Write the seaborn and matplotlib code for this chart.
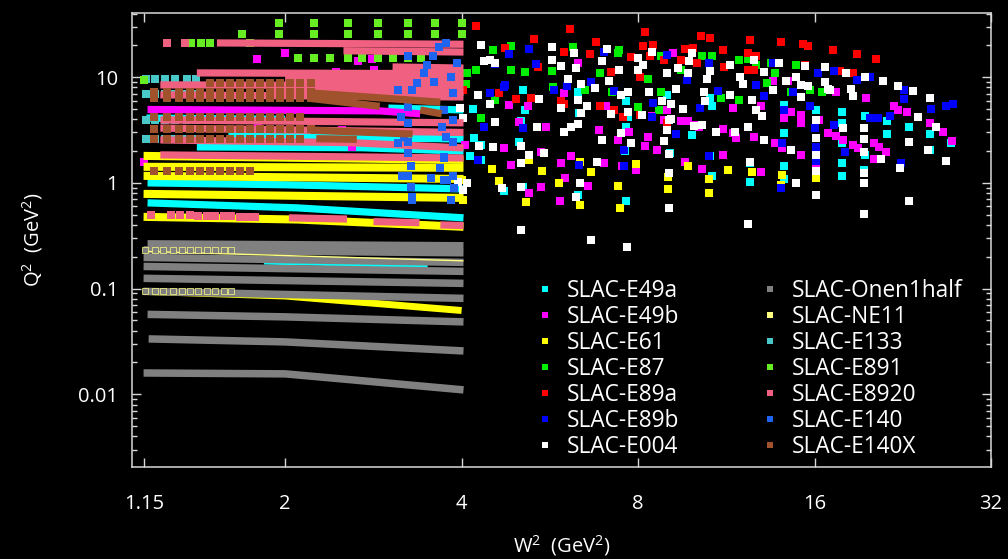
import matplotlib
matplotlib.use("Agg")
import matplotlib.pyplot as plt
import seaborn as sns
import pandas as pd
from matplotlib.lines import Line2D
from matplotlib.ticker import FixedLocator, LogLocator, NullLocator, NullFormatter

# ---------------- data (W^2, Q^2) ----------------
series_names = ["SLAC-E49a", "SLAC-E49b", "SLAC-E61", "SLAC-E87", "SLAC-E89a", "SLAC-E89b",
                "SLAC-E004", "SLAC-Onen1half", "SLAC-NE11", "SLAC-E133", "SLAC-E891",
                "SLAC-E8920", "SLAC-E140", "SLAC-E140X"]
series_colors = ["#00ffff", "#ff00ff", "#ffff00", "#00ee00", "#ff0000", "#0000ff",
                 "#ffffff", "#808080", "#ffff80", "#48c8c8", "#66ee22",
                 "#f06080", "#1e64f0", "#a0522d"]

e49a_pts = [(4.18,5.0),(4.2,2.64),(4.31,2.28),(4.13,1.78),(4.32,1.65),(5.1,7.6),(5.14,4.91),(5.05,3.86),
            (5.02,2.46),(4.72,0.83),(6.32,7.3),(6.34,4.55),(6.45,7.6),(7.63,6.0),(7.68,4.2),(7.63,3.41),
            (7.61,2.0),(7.63,0.667),(8.98,6.8),(9.08,1.9),(9.87,2.85),(10.6,6.3),(10.7,5.3),(10.6,1.78),
            (10.7,1.15),(12.4,1.53),(12.4,1.03),(14.2,5.5),(14.2,2.96),(14.2,1.45),(14.2,1.1),(16.1,4.91),
            (17.8,4.66),(17.8,3.66),(17.8,2.37),(17.8,1.55),(17.8,1.15),(19.5,4.26),(19.5,1.84),(21.3,3.86),
            (21.3,2.9),(23.2,3.41),(25.2,2.9),(25.2,2.06),(27.4,2.37),(19.4,1.33),(6.32,0.77),(5.09,0.92)]
e49a_bands = [[(1.165,1.0),(2.0,0.96),(4.03,0.877)],
              [(1.165,0.647),(2.1,0.58),(4.03,0.467)],
              [(1.414,2.19),(2.7,2.15),(4.03,2.0)],
              [(1.6,2.8),(4.03,2.6)],
              [(3.0,5.1),(4.03,4.9)],
              [(1.16,4.1),(2.0,4.0)]]
e49a_thin = [[(1.84,0.175),(3.5,0.162)]]

e49b_pts = [(4.72,2.12),(4.86,1.48),(5.22,0.81),(5.58,3.36),(5.46,1.94),(5.9,1.53),(6.0,1.12),(5.89,0.667),
            (6.15,1.78),(6.57,0.93),(6.85,3.17),(6.99,1.55),(7.38,2.56),(7.5,1.43),(7.95,1.33),(7.73,3.06),
            (8.33,2.74),(8.62,2.06),(8.22,2.21),(8.05,4.4),(8.98,4.91),(9.48,3.82),(9.73,3.82),(10.15,3.41),
            (9.61,1.59),(10.28,1.35),(11.15,3.24),(11.15,1.84),(11.6,2.96),(11.77,2.64),(12.6,2.74),
            (12.95,1.28),(13.7,2.37),(14.1,2.12),(14.2,4.1),(15.2,4.43),(15.2,3.66),(15.2,1.84),(16.1,1.53),
            (16.3,3.96),(16.9,2.96),(17.4,2.78),(17.4,7.3),(17.9,2.56),(18.6,2.28),(19.0,2.12),(20.2,2.37),
            (20.6,2.2),(21.2,1.94),(20.2,1.7),(22.2,4.91),(23.0,4.64),(25.2,3.66),(26.5,3.0),(27.5,2.5),
            (19.6,6.3),(21.9,5.3),(5.98,7.1),(5.19,5.35),(5.02,3.8),(4.81,5.5),(5.46,0.92),(4.06,2.28),
            (6.32,13.6),(7.04,5.3),(9.17,16.9),(13.6,9.2),(14.4,9.2),(14.6,4.73),(12.95,5.3),(11.6,5.1),
            (10.0,3.55),(8.44,4.26),(8.86,3.95),
            (1.147,1.58),(1.79,14.9),(2.0,16.9),(2.66,14.2),(2.81,14.9),(2.44,11.2),(2.84,11.7),
            (1.8,3.3),(2.5,3.17),(2.6,2.19)]
e49b_bands = [[(1.165,4.95),(2.9,4.8),(3.4,4.5)]]

e61_pts = [(4.51,1.35),(4.63,1.05),(5.16,0.66),(5.48,1.3),(5.22,1.63),(5.87,1.0),(6.36,0.62),(6.66,1.26),
           (6.38,1.57),(7.4,0.94),(7.45,0.58),(7.93,1.52),(9.0,1.14),(8.99,0.88),(9.74,1.43),(10.55,1.09),
           (10.55,0.81),(11.4,1.33),(12.5,1.28),(14.1,1.2),(16.1,1.11),(14.0,0.96),(4.03,0.69),(4.0,1.06)]
e61_bands = [[(1.147,1.80),(4.03,1.65)],
             [(1.147,1.42),(4.03,1.39)],
             [(1.147,1.165),(4.03,1.09)],
             [(1.147,0.787),(4.03,0.721)],
             [(1.147,0.477),(2.1,0.45),(4.03,0.384)]]
e61_low = [[(1.15,0.094),(2.0,0.085),(2.8,0.073),(4.0,0.062)]]

e87_pts = [(4.52,17.9),(4.85,19.9),(4.09,10.9),(4.24,11.6),(4.86,11.7),(5.14,11.2),(5.7,11.5),(5.72,8.0),
           (6.19,19.3),(7.43,18.2),(7.38,16.9),(6.88,11.0),(6.49,7.6),(7.23,7.3),(8.77,7.2),(8.0,5.2),
           (8.7,4.9),(8.31,9.6),(8.74,15.8),(10.28,15.7),(10.7,15.9),(11.9,14.4),(12.3,14.8),(12.7,13.1),
           (13.5,13.6),(13.3,8.8),(13.7,10.9),(14.9,13.1),(15.7,7.6),(16.5,7.3),(14.6,7.3),(11.1,6.3),
           (11.9,6.1),(4.31,4.1),(4.07,8.6),(4.56,6.1),(9.48,11.7)]

e89a_pts = [(4.24,30.5),(6.12,28.6),(8.22,26.6),(5.31,23.0),(6.79,21.6),(10.24,24.7),(10.6,23.5),
            (12.4,22.5),(14.0,21.3),(15.3,20.4),(15.6,19.6),(17.2,17.9),(18.9,16.5),(20.4,15.0),
            (5.98,17.4),(6.62,16.5),(4.75,18.8),(7.77,15.4),(8.47,20.3),(8.17,19.6),(9.61,18.5),
            (9.94,18.9),(11.15,17.9),(12.3,16.9),(12.7,15.7),(9.48,14.6),(8.86,14.4),(10.55,13.6),
            (10.08,13.6),(11.2,12.6),(12.3,11.7),(12.6,11.7),(15.4,13.1),(17.7,11.5),(18.6,10.9),
            (5.4,12.6),(4.95,6.2),(5.9,6.0),(5.98,5.6),(6.9,5.3),(7.28,4.9),(7.53,4.2),(8.07,4.4),
            (8.39,15.7),(8.98,3.7),(7.2,11.3),(8.07,10.1),(4.63,7.06),(5.26,6.4),(4.03,7.6)]

e89b_pts = [(4.81,16.5),(5.22,18.5),(5.35,13.3),(4.56,13.4),(4.75,8.45),(5.74,7.6),(6.06,8.2),(6.66,9.1),
            (6.99,17.5),(7.28,7.4),(8.44,4.2),(8.5,5.7),(8.98,16.2),(9.68,9.5),(10.2,5.1),(10.55,13.6),
            (10.97,7.4),(12.7,8.45),(13.1,6.6),(13.6,13.6),(14.7,7.3),(16.2,10.9),(17.3,11.5),(18.9,9.4),
            (19.9,10.0),(22.7,7.6),(22.7,6.2),(25.3,5.05),(26.8,5.3),(27.6,5.55),(15.7,5.3),(16.0,3.3),
            (16.1,2.2),(17.3,3.55),(18.0,1.98),(19.9,4.1),(20.5,4.1),(21.5,4.3),(22.5,1.53),(16.1,1.6),
            (14.2,4.9),(14.1,2.37),(14.0,0.89),(7.58,1.43),(7.58,2.06),(9.29,2.9),(6.35,1.48),(4.37,3.41),
            (5.09,3.3),(10.55,1.78),(4.26,1.65),(4.48,7.06),(4.72,8.15)]

e004_pts = [(4.31,20.3),(4.37,14.1),(4.48,14.6),(4.56,13.6),(5.7,19.3),(5.7,14.6),(5.9,12.8),(6.23,16.9),
            (6.27,12.2),(6.08,9.6),(6.4,8.6),(6.76,7.85),(7.09,18.5),(6.93,14.1),(7.14,9.25),(7.43,11.7),
            (7.99,15.3),(8.17,13.1),(8.01,11.7),(8.36,7.2),(8.44,17.5),(8.98,11.0),(9.29,7.75),(9.35,12.2),
            (9.78,14.1),(9.87,16.9),(9.74,10.9),(10.35,7.3),(10.4,6.0),(10.5,9.55),(10.6,11.5),(11.5,13.1),
            (11.5,6.8),(11.95,10.1),(12.1,8.6),(12.5,6.1),(12.6,14.6),(12.7,4.91),(13.0,4.3),(13.1,11.3),
            (13.6,7.5),(13.9,13.6),(14.3,9.2),(14.9,10.1),(15.2,8.4),(15.4,12.9),(15.6,8.3),(15.2,6.5),
            (16.7,12.6),(16.7,9.1),(17.0,7.6),(18.1,10.9),(18.5,7.7),(18.6,6.7),(19.5,10.1),(20.9,9.2),
            (22.2,8.2),(23.6,7.4),(25.2,6.4),(24.0,4.2),(25.8,3.36),(26.8,1.62),(25.0,2.06),(23.2,2.44),
            (22.4,1.38),(23.2,0.67),(20.8,1.7),(19.4,3.3),(19.4,2.6),(19.4,1.94),(19.4,1.24),(19.4,1.0),
            (19.4,0.51),(17.9,3.3),(16.9,7.7),(16.1,3.96),(16.1,2.64),(16.1,1.84),(16.1,1.29),(16.1,0.76),
            (14.6,2.06),(14.9,1.0),(13.1,2.56),(12.3,3.41),(12.4,1.59),(12.3,0.41),(11.7,3.06),(10.85,3.06),
            (10.28,3.55),(9.98,3.47),(9.04,3.96),(8.98,3.17),(9.04,1.88),(9.02,1.24),(9.04,0.58),(8.86,2.5),
            (7.79,2.37),(7.68,4.73),(7.47,2.96),(6.95,2.56),(6.81,1.59),(6.66,0.29),(6.32,3.6),(6.15,3.41),
            (6.36,1.0),(6.27,0.74),(5.98,3.0),(5.38,3.41),(5.52,1.9),(5.05,2.25),(5.22,1.84),(5.05,1.55),
            (5.05,0.92),(5.05,0.36),(4.68,0.89),(4.56,3.73),(4.53,2.17),(4.26,6.8),(4.29,2.23),(4.48,5.6),
            (4.09,1.0),(7.66,0.25),(5.42,6.2),(6.32,6.1),(6.55,5.3),(5.92,5.1),(6.4,4.6),(7.19,4.5),
            (8.11,4.4),(9.11,4.0),(7.68,7.3),(7.47,6.8),(8.8,6.0),(9.11,5.6),(9.55,5.0),
            (3.98,5.1),(4.03,4.1),(3.95,1.02),(4.03,0.86)]

onen_bands = [[(1.165,0.265),(4.03,0.254)],
              [(1.147,0.232),(4.03,0.218)],
              [(1.147,0.197),(4.03,0.177)],
              [(1.147,0.162),(4.03,0.1455)],
              [(1.147,0.125),(4.03,0.112)],
              [(1.147,0.0941),(4.03,0.0808)],
              [(1.165,0.057),(2.0,0.054),(4.03,0.0484)],
              [(1.17,0.0334),(2.0,0.0313),(4.03,0.0257)],
              [(1.147,0.0159),(2.0,0.0156),(2.8,0.0132),(4.03,0.011)]]

ne11_thin = [[(1.147,0.225),(4.03,0.183)]]
ne11_sq_w = [1.155,1.199,1.24,1.287,1.334,1.379,1.421,1.47,1.518,1.57,1.62]
ne11_sq_q = [0.094, 0.23]

e133_sq_w = [1.16,1.2,1.25,1.3,1.36,1.41]
e133_sq_q = [9.6, 7.0, 3.9, 2.6]

e891_rows = [([1.955,2.24,2.56,2.88,3.24,3.60,4.0], 32.6),
             ([1.69,1.955,2.24,2.56,2.88,3.24,3.60,4.0], 25.7),
             ([1.38,1.44,1.49,1.74], 21.1),
             ([2.10,2.24,2.386,2.56,2.71,2.88,3.06,3.24,3.406], 15.2),
             ([1.147], 9.4)]

e8920_bands = [[(1.53,21.1),(4.03,20.5)],
               [(2.515,17.8),(4.03,17.3)],
               [(3.05,12.5),(4.03,12.2)],
               [(1.414,10.98),(4.03,10.8)],
               [(2.0,9.64),(4.03,9.5)],
               [(1.225,8.46),(4.03,8.3)],
               [(1.9,7.42),(4.03,7.2)],
               [(1.225,6.8),(4.03,6.5)],
               [(1.225,3.94),(4.03,3.7)],
               [(1.225,3.3),(4.03,3.0)],
               [(1.225,2.55),(2.6,2.4),(4.03,2.14)],
               [(1.225,1.84),(4.03,1.72)],
               [(2.03,0.467),(2.55,0.455)],
               [(2.83,0.43),(3.39,0.42)],
               [(3.68,0.40),(4.03,0.395)]]
e8920_pts = [(1.258,21.1),(1.35,21.1),
             (1.179,0.498),(1.275,0.496),(1.326,0.494),(1.375,0.492),(1.421,0.49),(1.47,0.488),
             (1.518,0.486),(1.57,0.484),(1.62,0.482),(1.676,0.48),(1.73,0.478),(1.78,0.476)]

e140_pts = [(3.76,21.0),(3.66,19.5),(3.57,15.7),(3.49,13.1),(3.45,10.9),(3.36,8.8),(3.29,7.6),(3.24,15.7),
            (3.11,7.6),(3.24,5.27),(3.15,4.24),(3.24,3.67),(3.19,2.74),(3.11,2.37),(3.24,1.91),(3.28,1.43),
            (3.24,1.15),(3.28,0.92),(3.29,0.72),(3.73,1.77),(3.83,10.1),(3.93,13.6),(3.59,9.1),(3.86,7.06),
            (3.73,4.91),(3.86,3.94),(3.71,3.41),(3.68,1.38),(3.78,1.07),(3.86,1.15),(3.83,0.69),
            (3.24,2.46),(3.11,2.39),(3.76,2.74),(3.86,2.46),(3.73,1.71),(3.17,1.15),(3.55,1.11),(3.73,1.07),
            (3.29,0.74),(3.88,0.89),(3.29,0.69)]

e140x_sq_w = [1.194,1.257,1.317,1.379,1.434,1.487,1.546,1.608,1.676,1.743,1.815,1.887,1.962,2.04,2.124,2.21]
e140x_rows = [(slice(5, 16), 8.8), (slice(0, 16), 7.2), (slice(0, 16), 6.3), (slice(0, 15), 4.2),
              (slice(0, 16), 3.2), (slice(0, 15), 2.62), (slice(0, 10), 1.3)]
e140x_bands = [[(2.21,7.1),(3.68,5.8)],
               [(2.21,6.3),(2.9,5.3)],
               [(3.4,4.9),(3.7,4.5)],
               [(2.21,3.15),(3.3,2.9)],
               [(2.26,2.62),(2.65,2.58)]]

x_ticks = [1.15, 2, 4, 8, 16, 32]
x_ticklabels = ["1.15", "2", "4", "8", "16", "32"]
y_ticks = [0.01, 0.1, 1, 10]
y_ticklabels = ["0.01", "0.1", "1", "10"]

# ---------------- drawing ----------------
sns.set_theme(style="ticks")
plt.rcParams["font.family"] = ["Open Sans", "DejaVu Sans"]
plt.rcParams["mathtext.fontset"] = "custom"
plt.rcParams["mathtext.rm"] = "Open Sans"

fig = plt.figure(figsize=(10.08, 5.59), dpi=100, facecolor="black")
ax = fig.add_axes([132/1008, 1 - 467/559, (991-132)/1008, (467-13)/559])
ax.set_facecolor("black")
ax.set_xscale("log")
ax.set_yscale("log")

col = dict(zip(series_names, series_colors))
z = [0]


def draw_pts(pts, name, **kw):
    if not pts:
        return
    df = pd.DataFrame(pts, columns=["W2", "Q2"])
    z[0] += 1
    sns.scatterplot(data=df, x="W2", y="Q2", color=col[name], marker="s", s=27,
                    linewidth=0, ax=ax, zorder=z[0], legend=False, **kw)


def draw_bands(bands, name, lw=5.2):
    if not bands:
        return
    rows = []
    for i, b in enumerate(bands):
        for w, q in b:
            rows.append((i, w, q))
    df = pd.DataFrame(rows, columns=["band", "W2", "Q2"])
    z[0] += 1
    sns.lineplot(data=df, x="W2", y="Q2", units="band", estimator=None, sort=False,
                 color=col[name], lw=lw, ax=ax, zorder=z[0], legend=False,
                 solid_capstyle="butt")


draw_bands(e49a_bands, "SLAC-E49a")
draw_bands(e49a_thin, "SLAC-E49a", lw=2.5)
draw_pts(e49a_pts, "SLAC-E49a")
draw_bands(e49b_bands, "SLAC-E49b")
draw_pts(e49b_pts, "SLAC-E49b")
draw_bands(e61_bands, "SLAC-E61", lw=5.8)
draw_bands(e61_low, "SLAC-E61", lw=5.0)
draw_pts(e61_pts, "SLAC-E61")
draw_pts(e87_pts, "SLAC-E87")
draw_pts(e89a_pts, "SLAC-E89a")
draw_pts(e89b_pts, "SLAC-E89b")
draw_pts(e004_pts, "SLAC-E004")
draw_bands(onen_bands, "SLAC-Onen1half", lw=5.4)
draw_bands(ne11_thin, "SLAC-NE11", lw=1.0)
ne11_pts = [(w, q) for q in ne11_sq_q for w in ne11_sq_w]
z[0] += 1
ax.scatter([p[0] for p in ne11_pts], [p[1] for p in ne11_pts], marker="s", s=24,
           facecolors=col["SLAC-Onen1half"], edgecolors=col["SLAC-NE11"], linewidths=0.5,
           zorder=z[0])
draw_pts([(w, q) for q in e133_sq_q for w in e133_sq_w], "SLAC-E133")
draw_pts([(w, q) for ws, q in e891_rows for w in ws], "SLAC-E891")
draw_bands(e8920_bands, "SLAC-E8920")
draw_pts(e8920_pts, "SLAC-E8920")
draw_pts(e140_pts, "SLAC-E140")
draw_bands(e140x_bands, "SLAC-E140X")
draw_pts([(w, q) for sl, q in e140x_rows for w in e140x_sq_w[sl]], "SLAC-E140X")

ax.set_xlim(1.096, 32)
ax.set_ylim(0.00205, 40.5)

ax.xaxis.set_major_locator(FixedLocator(x_ticks))
ax.set_xticklabels(x_ticklabels)
ax.xaxis.set_minor_locator(NullLocator())
ax.yaxis.set_major_locator(FixedLocator(y_ticks))
ax.set_yticklabels(y_ticklabels)
ax.yaxis.set_minor_locator(LogLocator(base=10, subs=[2, 3, 4, 5, 6, 7, 8, 9]))
ax.yaxis.set_minor_formatter(NullFormatter())

frame_col = "#d8d8d8"
for sp in ax.spines.values():
    sp.set_color(frame_col)
    sp.set_linewidth(1.1)
    sp.set_visible(True)
    sp.set_zorder(100)
ax.tick_params(which="both", direction="in", top=True, right=True, colors=frame_col,
               labelcolor="white", width=1.0)
ax.tick_params(which="major", length=6.5)
ax.tick_params(which="minor", length=3.5)
ax.tick_params(axis="x", labelsize=14.5, pad=19.5)
ax.tick_params(axis="y", labelsize=14.5, pad=10)

ax.set_xlabel(r"W$^2$  (GeV$^2$)", color="white", fontsize=14.5, labelpad=14)
ax.set_ylabel(r"Q$^2$  (GeV$^2$)", color="white", fontsize=14.5, labelpad=24)
ax.grid(False)

handles = [Line2D([], [], marker="s", linestyle="none", markersize=5, markerfacecolor=c,
                  markeredgewidth=0) for c in series_colors]
leg = ax.legend(handles, series_names, ncol=2, loc="upper left", bbox_to_anchor=(0.473, 0.414),
                frameon=False, fontsize=16.3, labelcolor="white", handlelength=0.6,
                handletextpad=0.67, columnspacing=3.68, labelspacing=0.085, borderaxespad=0,
                borderpad=0)
leg.set_zorder(200)

fig.savefig("out.png", dpi=100, facecolor="black")
